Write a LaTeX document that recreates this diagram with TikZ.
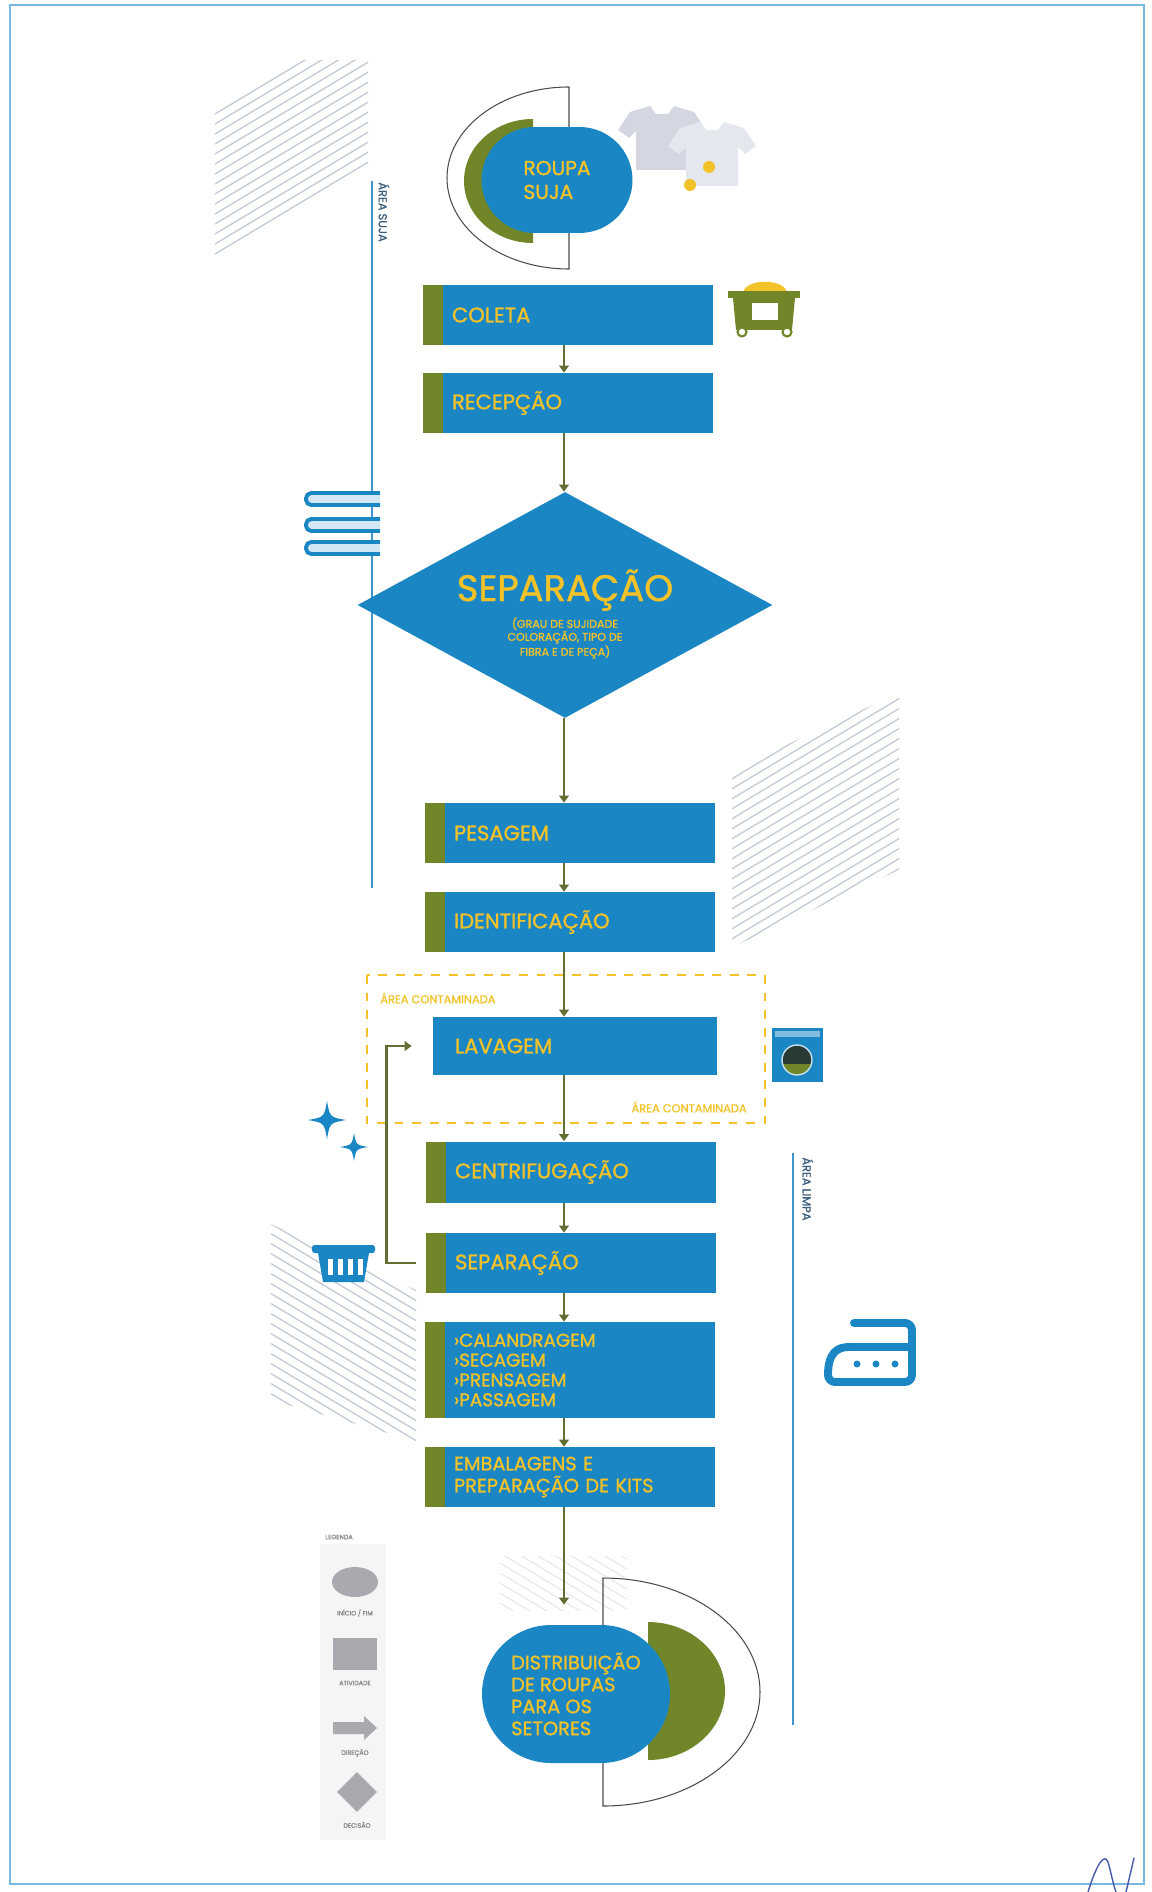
\documentclass[tikz,border=0pt]{standalone}
\usepackage{fontspec}
\setmainfont{Poppins}[FakeBold=1.2]
\usetikzlibrary{arrows.meta,shapes.geometric}

\definecolor{stepblue}{RGB}{27,134,196}
\definecolor{leaf}{RGB}{112,134,40}
\definecolor{gold}{RGB}{242,194,40}
\definecolor{stem}{RGB}{98,110,52}
\definecolor{zoneblue}{RGB}{64,148,204}
\definecolor{zonetext}{RGB}{58,92,122}
\definecolor{hatchgray}{RGB}{192,201,214}
\definecolor{shirtgray}{RGB}{212,214,226}
\definecolor{legendgray}{RGB}{168,170,176}
\definecolor{framec}{RGB}{120,184,226}
\definecolor{doorc}{RGB}{40,58,52}
\definecolor{inkblue}{RGB}{70,90,170}

\tikzset{
  stepbox/.style={rectangle, fill=stepblue, text=gold, minimum height=1.2cm,
    text width=4.64cm, inner xsep=0.58cm, align=left,
    font=\fontsize{12}{14}\selectfont,
    path picture={\fill[leaf] (path picture bounding box.north west)
      rectangle ([xshift=0.4cm]path picture bounding box.south west);}},
  washbox/.style={rectangle, fill=stepblue, text=gold, minimum height=1.16cm,
    text width=4.8cm, inner xsep=0.44cm, align=left,
    font=\fontsize{12}{14}\selectfont},
  endcap/.style={rectangle, fill=stepblue, text=gold, align=left},
  decision/.style={diamond, fill=stepblue, aspect=1.84, inner sep=0pt,
    minimum width=8.3cm, minimum height=4.52cm},
  flow/.style={draw=stem, line width=1.6pt, -{Triangle[length=4pt,width=5.5pt]}},
  hatchline/.style={hatchgray, line width=0.7pt},
  zoneline/.style={zoneblue, line width=1pt},
  zonelabel/.style={text=zonetext, font=\fontsize{6.5}{7}\selectfont,
    rotate=-90, anchor=west, inner sep=0pt},
  contamlabel/.style={text=gold, font=\fontsize{6.5}{7}\selectfont, inner sep=0pt},
  legendshape/.style={fill=legendgray, inner sep=0pt},
  legendlabel/.style={text=legendgray!80!black, font=\fontsize{3.6}{4}\selectfont, inner sep=0pt},
  outline/.style={black!70, line width=0.6pt},
}

\begin{document}
\begin{tikzpicture}[x=0.02cm, y=-0.02cm]
  \useasboundingbox (0,0) rectangle (1152,1892);

  % hatched patches behind the flow
  \begin{scope}
    \clip (215,110) -- (300,60) -- (368,60) -- (368,170) -- (215,263) -- cycle;
    \foreach \k in {0,...,32}{
      \draw[hatchline] (205,60+10*\k) -- ++(170,-102);
    }
  \end{scope}
  \begin{scope}
    \clip (732,770) -- (899,693) -- (899,870) -- (732,947) -- cycle;
    \foreach \k in {0,...,40}{
      \draw[hatchline] (725,693+10*\k) -- ++(180,-108);
    }
  \end{scope}
  \begin{scope}
    \clip (271,1224) -- (416,1290) -- (416,1441) -- (271,1400) -- cycle;
    \foreach \k in {0,...,35}{
      \draw[hatchline] (265,1100+10*\k) -- ++(160,96);
    }
  \end{scope}
  \begin{scope}
    \clip (500,1556) rectangle (627,1610);
    \foreach \k in {0,...,14}{
      \draw[hatchgray!45, line width=0.6pt] (495,1480+10*\k) -- ++(140,84);
    }
  \end{scope}

  % page frame
  \draw[framec, line width=0.9pt] (10,5) rectangle (1144,1884);

  % dirty / clean zones
  \draw[zoneline] (372,181) -- (372,888);
  \node[zonelabel] (dirtyzone) at (384,182) {ÁREA SUJA};
  \draw[zoneline] (793,1153) -- (793,1725);
  \node[zonelabel] (cleanzone) at (808,1157) {ÁREA LIMPA};

  % contaminated area around the washing
  \draw[gold, line width=1.1pt, dash pattern=on 5pt off 5pt] (367,975) rectangle (765,1123);
  \node[contamlabel, anchor=west] (contamtop) at (380,998) {ÁREA CONTAMINADA};
  \node[contamlabel, anchor=east] (contambot) at (747,1107) {ÁREA CONTAMINADA};

  % start: half ring and green half disk
  \draw[outline] (569,87) arc[start angle=270, end angle=90, x radius=122, y radius=91] -- cycle;
  \begin{scope}
    \clip (440,100) rectangle (533,260);
    \fill[leaf] (533,181) ellipse [x radius=69, y radius=62];
  \end{scope}
  \node[endcap, minimum width=3.02cm, minimum height=2.12cm, rounded corners=1.06cm,
    font=\fontsize{11.5}{13.6}\selectfont] (dirty) at (557,180) {ROUPA\\SUJA};

  % end: half ring and green half disk
  \draw[outline] (603,1578) arc[start angle=270, end angle=450, x radius=157, y radius=114] -- cycle;
  \begin{scope}
    \clip (648,1600) rectangle (740,1780);
    \fill[leaf] (648,1691) ellipse [x radius=77, y radius=69];
  \end{scope}
  \node[endcap, minimum width=3.76cm, minimum height=2.76cm, rounded corners=1.38cm,
    font=\fontsize{11}{12.5}\selectfont] (deliver) at (576,1694)
    {DISTRIBUIÇÃO\\DE ROUPAS\\PARA OS\\SETORES};

  % steps
  \node[stepbox] (collect) at (568,315) {COLETA};
  \node[stepbox] (receive) at (568,403) {RECEPÇÃO};
  \node[decision] (sort) at (565,605) {};
  \node[text=gold, font=\fontsize{21}{24}\selectfont, inner sep=0pt] (sorttitle) at (565,590) {SEPARAÇÃO};
  \node[text=gold, font=\fontsize{6.3}{7.4}\selectfont, align=center, inner sep=0pt] (sortnote) at (565,638)
    {(GRAU DE SUJIDADE\\COLORAÇÃO, TIPO DE\\FIBRA E DE PEÇA)};
  \node[stepbox] (weigh) at (570,833) {PESAGEM};
  \node[stepbox] (tagging) at (570,922) {IDENTIFICAÇÃO};
  \node[washbox] (wash) at (575,1046) {LAVAGEM};
  \node[stepbox, minimum height=1.22cm] (spin) at (571,1172) {CENTRIFUGAÇÃO};
  \node[stepbox] (split) at (571,1263) {SEPARAÇÃO};
  \node[stepbox, minimum height=1.92cm, font=\fontsize{10.5}{11.3}\selectfont] (press) at (570,1370)
    {›CALANDRAGEM\\›SECAGEM\\›PRENSAGEM\\›PASSAGEM};
  \node[stepbox, font=\fontsize{11}{12.5}\selectfont] (pack) at (570,1477)
    {EMBALAGENS E\\PREPARAÇÃO DE KITS};

  % connectors
  \coordinate (spine) at (564,0);
  \foreach \src/\dst in {collect/receive, receive/sort, sort/weigh, weigh/tagging,
      tagging/wash, wash/spin, spin/split, split/press, press/pack}{
    \draw[flow] (\src.south -| spine) -- (\dst.north -| spine);
  }
  \draw[flow, shorten >=0.4cm] (pack.south -| spine) -- (deliver.north -| spine);
  \draw[flow, shorten <=0.2cm, shorten >=0.42cm] (split.west) -- ++(-39,0) |- (wash.west);

  % legend
  \fill[black!4] (320,1544) rectangle (386,1840);
  \node[legendlabel] (legendtitle) at (339,1537) {LEGENDA};
  \node[legendshape, ellipse, minimum width=0.92cm, minimum height=0.6cm] (keyend) at (355,1582) {};
  \node[legendlabel] (keyendtxt) at (355,1613) {INÍCIO / FIM};
  \node[legendshape, rectangle, minimum width=0.88cm, minimum height=0.64cm] (keystep) at (355,1654) {};
  \node[legendlabel] (keysteptxt) at (355,1683) {ATIVIDADE};
  \fill[legendgray] (333,1722) -- (364,1722) -- (364,1716) -- (377,1728) -- (364,1740)
    -- (364,1734) -- (333,1734) -- cycle;
  \node[legendlabel] (keyflowtxt) at (355,1753) {DIREÇÃO};
  \node[legendshape, diamond, minimum width=0.8cm, minimum height=0.8cm] (keydecide) at (357,1792) {};
  \node[legendlabel] (keydecidetxt) at (357,1825) {DECISÃO};

  % shirts
  \foreach \sx/\sy/\tone in {662/106/shirtgray, 712/122/shirtgray!60!white}{
    \fill[\tone] (\sx-12,\sy) -- (\sx-32,\sy+6) -- (\sx-44,\sy+24) -- (\sx-33,\sy+32)
      -- (\sx-26,\sy+25) -- (\sx-26,\sy+64) -- (\sx+26,\sy+64) -- (\sx+26,\sy+25)
      -- (\sx+33,\sy+32) -- (\sx+44,\sy+24) -- (\sx+32,\sy+6) -- (\sx+12,\sy)
      -- (\sx+6,\sy+8) -- (\sx-6,\sy+8) -- cycle;
  }
  \foreach \cx/\cy in {709/167, 690/185}{
    \fill[gold] (\cx,\cy) circle (6);
  }

  % container
  \fill[gold] (743,293) .. controls (745,278) and (785,278) .. (787,293) -- cycle;
  \fill[leaf] (728,291) rectangle (800,298);
  \fill[leaf] (733,298) -- (795,298) -- (792,330) -- (736,330) -- cycle;
  \fill[white] (752,303) rectangle (778,320);
  \foreach \x in {742,787}{
    \filldraw[fill=white, draw=leaf, line width=1.2pt] (\x,332) circle (4.5);
  }

  % books
  \foreach \y in {493,519,542}{
    \fill[stepblue!20] (306,\y) rectangle (380,\y+12);
    \draw[stepblue, line width=2.2pt, rounded corners=3pt] (380,\y) -- (306,\y) -- (306,\y+12) -- (380,\y+12);
  }

  % washing machine
  \fill[stepblue] (772,1028) rectangle (823,1082);
  \fill[stepblue!55!white] (775,1031) rectangle (820,1037);
  \fill[doorc] (797,1060) circle (15);
  \begin{scope}
    \clip (797,1060) circle (15);
    \fill[leaf] (780,1064) rectangle (815,1078);
  \end{scope}
  \draw[white!75!stepblue, line width=0.8pt] (797,1060) circle (15);

  % sparkles
  \foreach \cx/\cy/\r in {327/1120/19, 354/1147/14}{
    \fill[stepblue] (\cx,\cy-\r) .. controls (\cx+0.15*\r,\cy-0.15*\r) .. (\cx+\r,\cy)
      .. controls (\cx+0.15*\r,\cy+0.15*\r) .. (\cx,\cy+\r)
      .. controls (\cx-0.15*\r,\cy+0.15*\r) .. (\cx-\r,\cy)
      .. controls (\cx-0.15*\r,\cy-0.15*\r) .. (\cx,\cy-\r) -- cycle;
  }

  % basket
  \fill[stepblue, rounded corners=1.5pt] (312,1245) rectangle (375,1253);
  \fill[stepblue] (318,1253) -- (369,1253) -- (364,1282) -- (323,1282) -- cycle;
  \foreach \x in {328,338,348,358}{
    \fill[white] (\x,1259) rectangle (\x+5,1275);
  }

  % iron
  \draw[stepblue, line width=4.5pt, line cap=round, line join=round, rounded corners=4pt]
    (854,1323) -- (912,1323) -- (912,1382) -- (828,1382)
    .. controls (828,1352) and (838,1347) .. (856,1347) -- (912,1347);
  \foreach \x in {857,876,895}{
    \fill[stepblue] (\x,1364) circle (3.5);
  }

  % initials
  \draw[inkblue, line width=0.8pt, line cap=round] (1088,1892) .. controls (1096,1866) and (1104,1852) .. (1108,1862)
    .. controls (1111,1872) and (1113,1884) .. (1116,1892);
  \draw[inkblue, line width=0.8pt, line cap=round] (1134,1858) -- (1126,1892);
\end{tikzpicture}
\end{document}
